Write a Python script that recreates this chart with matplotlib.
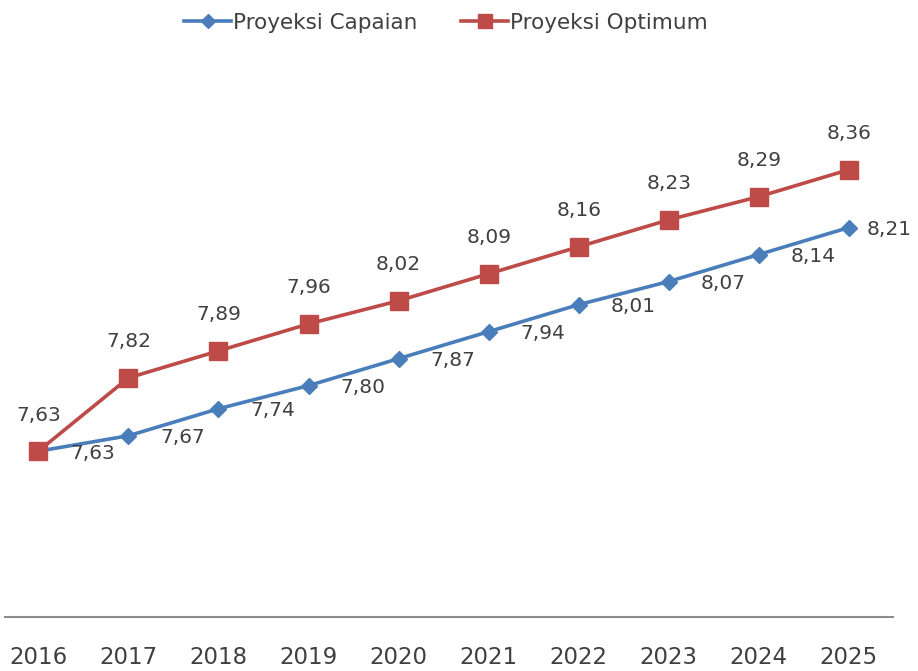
import numpy as np
import matplotlib.pyplot as plt

years = [2016, 2017, 2018, 2019, 2020, 2021, 2022, 2023, 2024, 2025]
capaian = [7.63, 7.67, 7.74, 7.80, 7.87, 7.94, 8.01, 8.07, 8.14, 8.21]
optimum = [7.63, 7.82, 7.89, 7.96, 8.02, 8.09, 8.16, 8.23, 8.29, 8.36]


def fmt(v):
    return ('%.2f' % v).replace('.', ',')


def main():
    plt.rcParams['font.family'] = ['DejaVu Sans']
    fig = plt.figure(figsize=(9.18, 6.71), dpi=100)
    ax = fig.add_axes([5 / 918, 54 / 671, 888 / 918, 617 / 671])

    blue = '#4A7EBB'
    red = '#BE4B48'
    txt = '#404040'

    ax.plot(years, capaian, color=blue, lw=2.6, marker='D', ms=8.5,
            label='Proyeksi Capaian')
    ax.plot(years, optimum, color=red, lw=2.6, marker='s', ms=13,
            label='Proyeksi Optimum')

    for i, (x, y) in enumerate(zip(years, capaian)):
        dx = 18 if i == len(years) - 1 else 32
        ax.annotate(fmt(y), (x, y), xytext=(dx, -2), textcoords='offset pixels',
                    ha='left', va='center', fontsize=14.5, color=txt)
    for x, y in zip(years, optimum):
        ax.annotate(fmt(y), (x, y), xytext=(0, 36), textcoords='offset pixels',
                    ha='center', va='center', fontsize=14.5, color=txt)

    ax.set_xlim(2016 - 0.37, 2025 + 0.49)
    ax.set_ylim(7.2, 8.8)
    ax.set_yticks([])
    ax.set_xticks(years)
    ax.set_xticklabels([str(y) for y in years], fontsize=16.5, color=txt)
    ax.tick_params(axis='x', length=0, pad=21)
    for s in ['top', 'left', 'right']:
        ax.spines[s].set_visible(False)
    ax.spines['bottom'].set_color('#8C8C8C')
    ax.spines['bottom'].set_linewidth(1.5)

    fig.legend(loc='center', bbox_to_anchor=(446 / 918, 1 - 23 / 671), ncol=2,
               frameon=False, fontsize=15.5, handlelength=2.2, columnspacing=2.0,
               handletextpad=0.1, labelcolor=txt, markerscale=0.8)

    fig.savefig('out.png', dpi=100)


if __name__ == '__main__':
    main()
